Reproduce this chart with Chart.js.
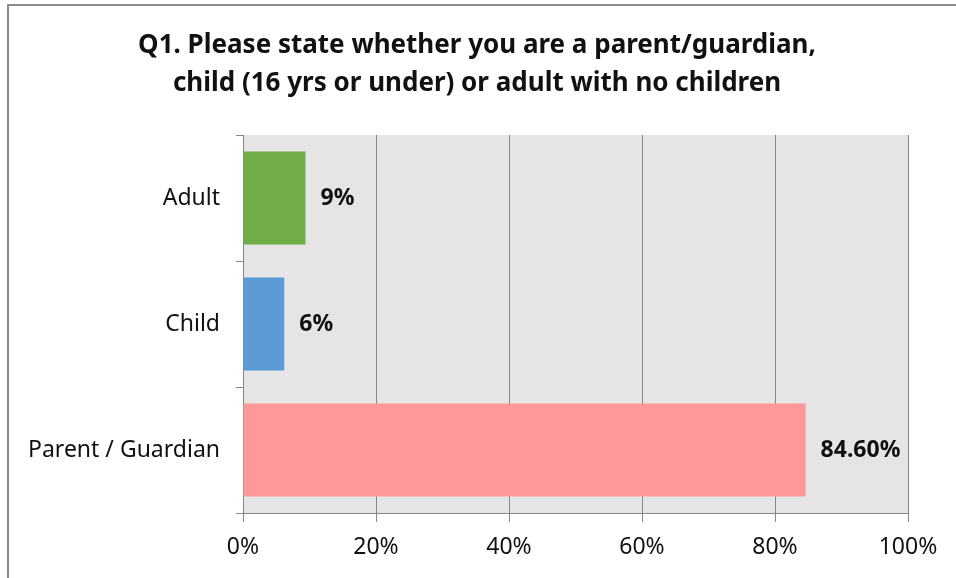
<!DOCTYPE html>
<html>
<head>
<meta charset="utf-8">
<script src="https://cdn.jsdelivr.net/npm/chart.js@4/dist/chart.umd.min.js"></script>
<style>
  html, body { margin: 0; padding: 0; background: #fff; }
  #wrap { position: relative; width: 956px; height: 578px; }
  #frame { position: absolute; left: 7px; top: 4px; right: 0; bottom: 0;
           border-top: 2px solid #8c8c8c; border-left: 2px solid #8c8c8c; pointer-events: none; }
  canvas { position: absolute; left: 0; top: 0; }
</style>
</head>
<body>
<div id="wrap">
  <canvas id="chart" width="956" height="578"></canvas>
  <div id="frame"></div>
</div>
<script>
// ── Data ────────────────────────────────────────────────────────────────
const CATEGORIES = ['Adult', 'Child', 'Parent / Guardian'];
const VALUES     = [9.4, 6.2, 84.6];
const VALUE_TEXT = ['9%', '6%', '84.60%'];
const X_TICKS    = [0, 20, 40, 60, 80, 100];
const TITLE      = ['Q1. Please state whether you are a parent/guardian,',
                    'child (16 yrs or under) or adult with no children'];

const BAR_COLORS = ['#70AD47', '#5B9BD5', '#FF9999'];
const GRID = '#868686';
const FONT = "'Noto Sans', sans-serif";

// plot background fill
const plotBg = {
  id: 'plotBg',
  beforeDraw(chart) {
    const { ctx, chartArea: a } = chart;
    ctx.save();
    ctx.fillStyle = '#e5e5e5';
    ctx.fillRect(a.left, a.top, a.right - a.left, a.bottom - a.top);
    ctx.restore();
  }
};

// two-line title, centred on the whole picture rather than the layout box
const titleText = {
  id: 'titleText',
  afterDraw(chart) {
    const { ctx } = chart;
    ctx.save();
    ctx.font = `bold 26px ${FONT}`;
    ctx.fillStyle = '#111';
    ctx.textAlign = 'center';
    ctx.textBaseline = 'middle';
    TITLE.forEach((line, i) => ctx.fillText(line, 477, 46 + i * 38));
    ctx.restore();
  }
};

// bold value labels to the right of each bar
const valueLabels = {
  id: 'valueLabels',
  afterDatasetsDraw(chart) {
    const { ctx } = chart;
    const meta = chart.getDatasetMeta(0);
    ctx.save();
    ctx.font = `bold 23px ${FONT}`;
    ctx.fillStyle = '#111';
    ctx.textAlign = 'left';
    ctx.textBaseline = 'middle';
    meta.data.forEach((bar, i) => {
      ctx.fillText(VALUE_TEXT[i], bar.x + 15, bar.y);
    });
    ctx.restore();
  }
};

new Chart(document.getElementById('chart'), {
  type: 'bar',
  data: {
    labels: CATEGORIES,
    datasets: [{
      data: VALUES,
      backgroundColor: BAR_COLORS,
      borderWidth: 0,
      categoryPercentage: 1,
      barPercentage: 0.74,
    }],
  },
  options: {
    indexAxis: 'y',
    responsive: false,
    animation: false,
    layout: { padding: { left: 0, right: 48, top: 135, bottom: 14 } },
    plugins: {
      legend: { display: false },
      tooltip: { enabled: false },
      title: { display: false },
    },
    scales: {
      x: {
        min: 0,
        max: 100,
        afterBuildTicks: s => { s.ticks = X_TICKS.map(v => ({ value: v })); },
        afterFit: s => { s.height = 51; },
        ticks: { color: '#111', padding: 12, font: { family: FONT, size: 23 }, callback: v => v + '%' },
        grid: { color: GRID, tickLength: 9, lineWidth: 1 },
        border: { color: GRID },
      },
      y: {
        afterFit: s => { s.width = 243; },
        ticks: { color: '#111', padding: 16, font: { family: FONT, size: 23 } },
        grid: { offset: true, drawOnChartArea: false, color: GRID, tickLength: 7 },
        border: { color: GRID },
      },
    },
  },
  plugins: [plotBg, valueLabels, titleText],
});
</script>
</body>
</html>
